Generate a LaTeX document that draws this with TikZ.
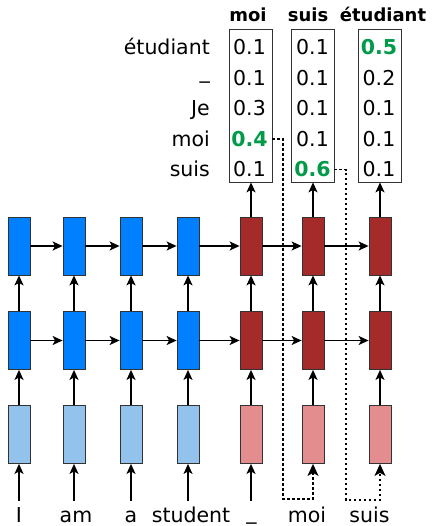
\documentclass[tikz,border=0pt]{standalone}
\usepackage{fontspec}
\setmainfont{DejaVu Sans}
\usetikzlibrary{arrows.meta}
\definecolor{encblue}{HTML}{0080FF}
\definecolor{decred}{HTML}{A52A2A}
\definecolor{embblue}{HTML}{93C2EC}
\definecolor{embred}{HTML}{E38D8F}
\definecolor{hlgreen}{HTML}{009A49}
\definecolor{edgegray}{HTML}{333333}
\begin{document}
\begin{tikzpicture}[x=1pt,y=-1pt,
 cell/.style={draw=edgegray, line width=0.8pt, minimum width=22pt, minimum height=58pt, inner sep=0pt},
 enc/.style={cell, fill=encblue},
 dec/.style={cell, fill=decred},
 embe/.style={cell, fill=embblue},
 embd/.style={cell, fill=embred},
 arr/.style={line width=1.4pt, -{Stealth[length=10pt,width=9pt,inset=2.5pt]}},
 dotarr/.style={line width=1.4pt, dash pattern=on 2.5pt off 2.5pt, -{Stealth[length=12pt,width=11pt,inset=3pt]}},
 txt/.style={font=\fontsize{20.5pt}{24pt}\selectfont, inner sep=0pt},
 val/.style={txt, anchor=base},
 hi/.style={val, font=\fontsize{20.5pt}{24pt}\selectfont\bfseries, text=hlgreen},
 rowlab/.style={txt, anchor=base east},
 head/.style={anchor=base, inner sep=0pt, font=\fontsize{18pt}{22pt}\selectfont\bfseries},
 word/.style={txt, anchor=base, text height=21pt, text depth=4pt},
 probbox/.style={draw=edgegray, line width=0.8pt, minimum width=43pt, minimum height=153pt, inner sep=0pt}]
\useasboundingbox (0,0) rectangle (431,526);

% probability boxes
\node[probbox] (ob1) at (250.5,105.5) {};
\node[probbox] (ob2) at (312.5,105.5) {};
\node[probbox] (ob3) at (380,105.5) {};

% headers
\node[head] (h1) at (248,22) {moi};
\node[head] (h2) at (308,22) {suis};
\node[head] (h3) at (383,22) {étudiant};

% row labels
\node[rowlab] (r1) at (210,55) {étudiant};
\node[rowlab] (r2) at (210,85.5) {\raisebox{7pt}{\_}};
\node[rowlab] (r3) at (210,116) {Je};
\node[rowlab] (r4) at (210,146.5) {moi};
\node[rowlab] (r5) at (210,177) {suis};

% values
\node[val] (v11) at (249.5,55) {0.1};
\node[val] (v12) at (249.5,85.5) {0.1};
\node[val] (v13) at (249.5,116) {0.3};
\node[hi]  (v14) at (249.5,146.5) {0.4};
\node[val] (v15) at (249.5,177) {0.1};
\node[val] (v21) at (312.5,55) {0.1};
\node[val] (v22) at (312.5,85.5) {0.1};
\node[val] (v23) at (312.5,116) {0.1};
\node[val] (v24) at (312.5,146.5) {0.1};
\node[hi]  (v25) at (312.5,177) {0.6};
\node[hi]  (v31) at (379,55) {0.5};
\node[val] (v32) at (379,85.5) {0.2};
\node[val] (v33) at (379,116) {0.1};
\node[val] (v34) at (379,146.5) {0.1};
\node[val] (v35) at (379,177) {0.1};

% cells
\foreach \i/\x in {1/19,2/74,3/131,4/188}{
  \node[enc] (t\i) at (\x,246) {};
  \node[enc] (m\i) at (\x,340.5) {};
  \node[embe] (b\i) at (\x,434.5) {};
}
\foreach \i/\x in {5/251,6/313,7/380}{
  \node[dec] (t\i) at (\x,246) {};
  \node[dec] (m\i) at (\x,340.5) {};
  \node[embd] (b\i) at (\x,434.5) {};
}

% words
\node[word] (w1) at (19,522) {I};
\node[word] (w2) at (76,522) {am};
\node[word] (w3) at (131,522) {a};
\node[word] (w4) at (191,522) {student};
\node[word] (w5) at (251.5,522) {\raisebox{3pt}{\_}};
\node[word] (w6) at (307,522) {moi};
\node[word] (w7) at (369.5,522) {suis};

% vertical arrows
\foreach \i in {1,...,7}{
  \draw[arr] (b\i.north) -- (m\i.south);
  \draw[arr] (m\i.north) -- (t\i.south);
}
\foreach \i in {1,...,5}{
  \draw[arr] (b\i.south |- w\i.north) -- (b\i.south);
}
% horizontal arrows
\foreach \i/\j in {1/2,2/3,3/4,4/5,5/6,6/7}{
  \draw[arr] (t\i.east) -- (t\j.west);
  \draw[arr] (m\i.east) -- (m\j.west);
}
% to output distributions
\draw[arr] (t5.north) -- (t5.north |- ob1.south);
\draw[arr] (t6.north) -- (t6.north |- ob2.south);
\draw[arr] (t7.north) -- (t7.north |- ob3.south);

% feedback (dotted)
\coordinate (k1) at (283,499);
\coordinate (k2) at (346,500);
\draw[dotarr] (ob1.east |- v14) -| (k1) -| (b6.south);
\draw[dotarr] (ob2.east |- v25) -| (k2) -| (b7.south);
\end{tikzpicture}
\end{document}
